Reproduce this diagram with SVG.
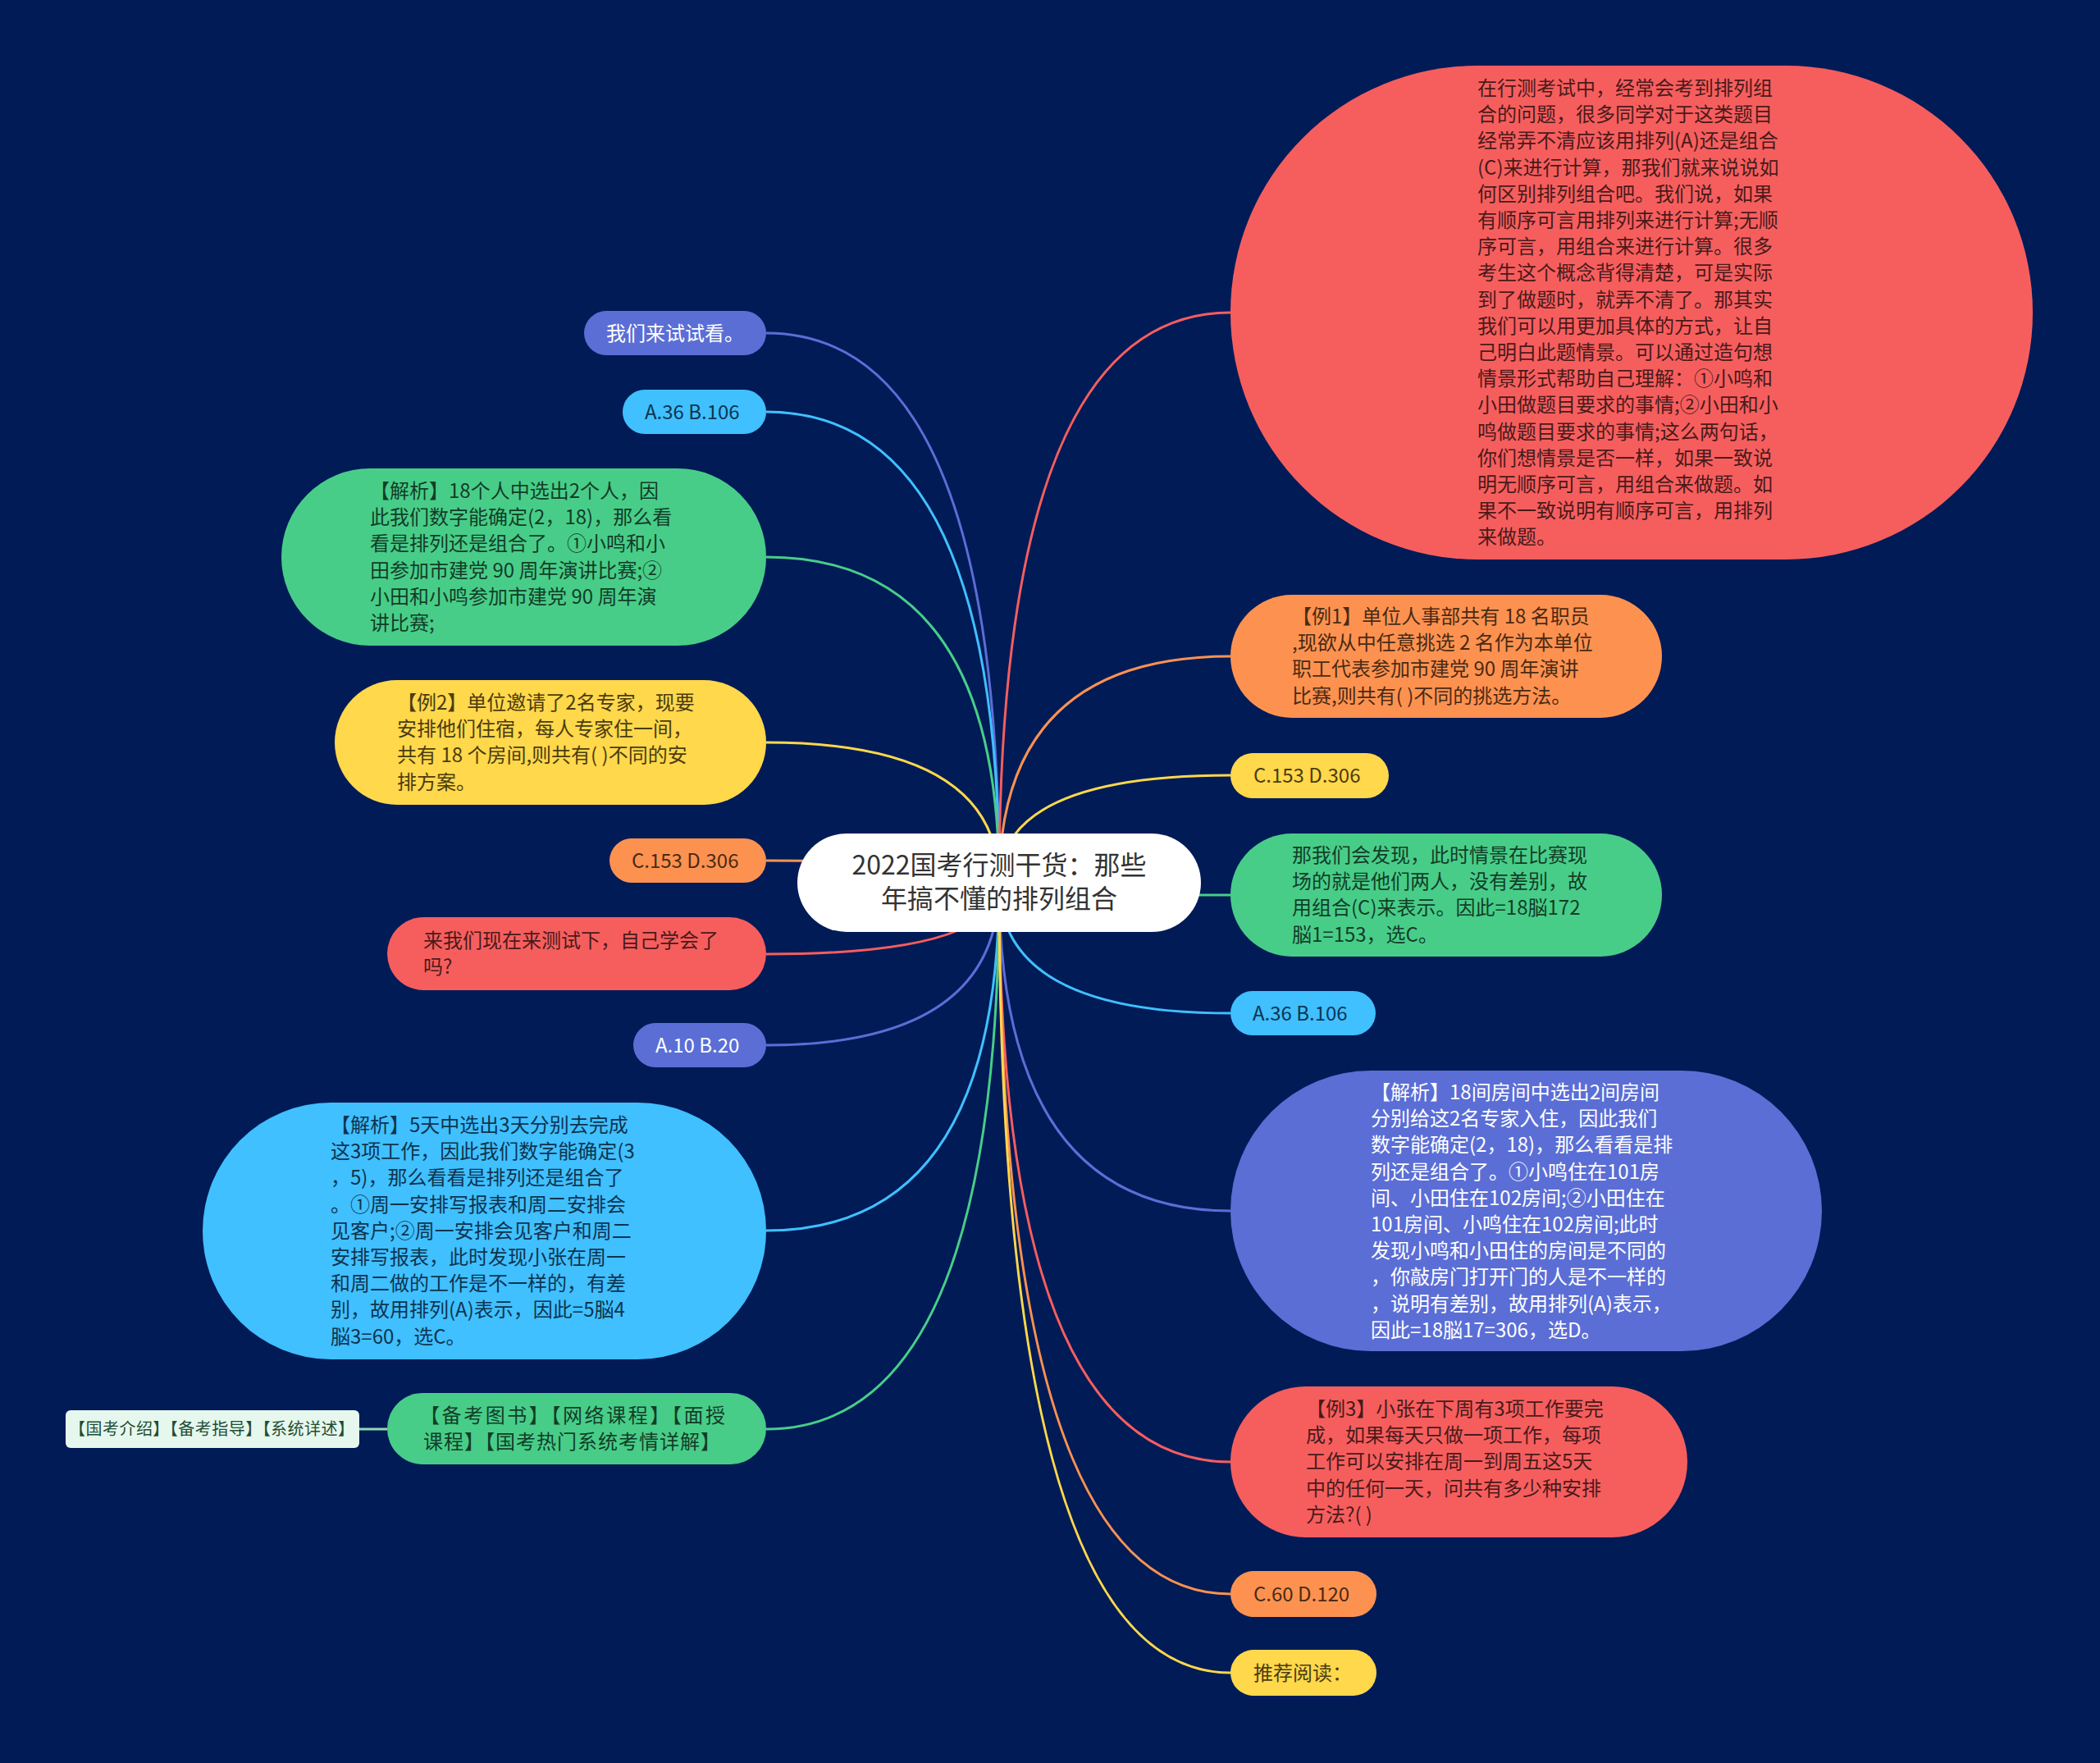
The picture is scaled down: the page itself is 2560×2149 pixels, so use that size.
<svg xmlns="http://www.w3.org/2000/svg" width="2560" height="2149" viewBox="0 0 2560 2149">
<style>
text{font-family:"Noto Sans CJK SC","Noto Sans",sans-serif;font-size:24px;}
.conn path{fill:none;stroke-width:3;}
.red{fill:#f65e5e}.orange{fill:#fd9250}.yellow{fill:#ffd84b}.green{fill:#48cd89}.lblue{fill:#40c0ff}.purple{fill:#5b6ed6}
.tred{fill:#4a1a1a}.torange{fill:#4a2a14}.tyellow{fill:#4a3c10}.tgreen{fill:#123d27}.tlblue{fill:#0e3450}.twhite{fill:#ffffff}
.root text{font-size:32px;fill:#333333;}
</style>
<rect x="0" y="0" width="2560" height="2149" fill="#011b57"/>
<g class="conn">
<path d="M1218,1077 Q1218,406 934,406" stroke="#5b6ed6"/>
<path d="M1218,1077 Q1218,502 934,502" stroke="#40c0ff"/>
<path d="M1218,1077 Q1218,679 934,679" stroke="#48cd89"/>
<path d="M1218,1077 Q1218,905 934,905" stroke="#ffd84b"/>
<path d="M1218,1077 Q1218,1049 934,1049" stroke="#fd9250"/>
<path d="M1218,1077 Q1218,1163 934,1163" stroke="#f65e5e"/>
<path d="M1218,1077 Q1218,1274 934,1274" stroke="#5b6ed6"/>
<path d="M1218,1077 Q1218,1500 934,1500" stroke="#40c0ff"/>
<path d="M1218,1077 Q1218,1742 934,1742" stroke="#48cd89"/>
<path d="M472,1742 L438,1742" stroke="#8fdcb6"/>
<path d="M1218,1077 Q1218,381 1500,381" stroke="#f65e5e"/>
<path d="M1218,1077 Q1218,800 1500,800" stroke="#fd9250"/>
<path d="M1218,1077 Q1218,945 1500,945" stroke="#ffd84b"/>
<path d="M1218,1077 Q1218,1091 1500,1091" stroke="#48cd89"/>
<path d="M1218,1077 Q1218,1235 1500,1235" stroke="#40c0ff"/>
<path d="M1218,1077 Q1218,1476 1500,1476" stroke="#5b6ed6"/>
<path d="M1218,1077 Q1218,1782 1500,1782" stroke="#f65e5e"/>
<path d="M1218,1077 Q1218,1943 1500,1943" stroke="#fd9250"/>
<path d="M1218,1077 Q1218,2039 1500,2039" stroke="#ffd84b"/>
</g>
<g id="root" class="root">
<rect x="972" y="1016" width="492" height="120" rx="60" fill="#ffffff"/>
<text x="1218" y="1066" text-anchor="middle">2022国考行测干货：那些</text>
<text x="1218" y="1107" text-anchor="middle">年搞不懂的排列组合</text>
</g>
<g id="r1">
<rect x="1500" y="80" width="978" height="602" rx="301" class="red"/>
<text x="1801" y="116" class="tred"><tspan x="1801">在行测考试中，经常会考到排列组</tspan><tspan x="1801" dy="32.2">合的问题，很多同学对于这类题目</tspan><tspan x="1801" dy="32.2">经常弄不清应该用排列(A)还是组合</tspan><tspan x="1801" dy="32.2">(C)来进行计算，那我们就来说说如</tspan><tspan x="1801" dy="32.2">何区别排列组合吧。我们说，如果</tspan><tspan x="1801" dy="32.2">有顺序可言用排列来进行计算;无顺</tspan><tspan x="1801" dy="32.2">序可言，用组合来进行计算。很多</tspan><tspan x="1801" dy="32.2">考生这个概念背得清楚，可是实际</tspan><tspan x="1801" dy="32.2">到了做题时，就弄不清了。那其实</tspan><tspan x="1801" dy="32.2">我们可以用更加具体的方式，让自</tspan><tspan x="1801" dy="32.2">己明白此题情景。可以通过造句想</tspan><tspan x="1801" dy="32.2">情景形式帮助自己理解：①小鸣和</tspan><tspan x="1801" dy="32.2">小田做题目要求的事情;②小田和小</tspan><tspan x="1801" dy="32.2">鸣做题目要求的事情;这么两句话，</tspan><tspan x="1801" dy="32.2">你们想情景是否一样，如果一致说</tspan><tspan x="1801" dy="32.2">明无顺序可言，用组合来做题。如</tspan><tspan x="1801" dy="32.2">果不一致说明有顺序可言，用排列</tspan><tspan x="1801" dy="32.2">来做题。</tspan></text>
</g>
<g id="r2">
<rect x="1500" y="725" width="526" height="150" rx="75" class="orange"/>
<text x="1575" y="760" class="torange"><tspan x="1575">【例1】单位人事部共有 18 名职员</tspan><tspan x="1575" dy="32.2">,现欲从中任意挑选 2 名作为本单位</tspan><tspan x="1575" dy="32.2">职工代表参加市建党 90 周年演讲</tspan><tspan x="1575" dy="32.2">比赛,则共有( )不同的挑选方法。</tspan></text>
</g>
<g id="r3">
<rect x="1500" y="918" width="193" height="55" rx="27.5" class="yellow"/>
<text x="1528" y="954" class="tyellow">C.153 D.306</text>
</g>
<g id="r4">
<rect x="1500" y="1016" width="526" height="150" rx="75" class="green"/>
<text x="1575" y="1051" class="tgreen"><tspan x="1575">那我们会发现，此时情景在比赛现</tspan><tspan x="1575" dy="32.2">场的就是他们两人，没有差别，故</tspan><tspan x="1575" dy="32.2">用组合(C)来表示。因此=18脳172</tspan><tspan x="1575" dy="32.2">脳1=153，选C。</tspan></text>
</g>
<g id="r5">
<rect x="1500" y="1208" width="177" height="54" rx="27" class="lblue"/>
<text x="1527" y="1243.5" class="tlblue">A.36 B.106</text>
</g>
<g id="r6">
<rect x="1500" y="1305" width="721" height="342" rx="171" class="purple"/>
<text x="1671" y="1340" class="twhite"><tspan x="1671">【解析】18间房间中选出2间房间</tspan><tspan x="1671" dy="32.2">分别给这2名专家入住，因此我们</tspan><tspan x="1671" dy="32.2">数字能确定(2，18)，那么看看是排</tspan><tspan x="1671" dy="32.2">列还是组合了。①小鸣住在101房</tspan><tspan x="1671" dy="32.2">间、小田住在102房间;②小田住在</tspan><tspan x="1671" dy="32.2">101房间、小鸣住在102房间;此时</tspan><tspan x="1671" dy="32.2">发现小鸣和小田住的房间是不同的</tspan><tspan x="1671" dy="32.2">，你敲房门打开门的人是不一样的</tspan><tspan x="1671" dy="32.2">，说明有差别，故用排列(A)表示，</tspan><tspan x="1671" dy="32.2">因此=18脳17=306，选D。</tspan></text>
</g>
<g id="r7">
<rect x="1500" y="1690" width="557" height="184" rx="92" class="red"/>
<text x="1592" y="1726" class="tred"><tspan x="1592">【例3】小张在下周有3项工作要完</tspan><tspan x="1592" dy="32.2">成，如果每天只做一项工作，每项</tspan><tspan x="1592" dy="32.2">工作可以安排在周一到周五这5天</tspan><tspan x="1592" dy="32.2">中的任何一天，问共有多少种安排</tspan><tspan x="1592" dy="32.2">方法?( )</tspan></text>
</g>
<g id="r8">
<rect x="1500" y="1915" width="178" height="56" rx="28" class="orange"/>
<text x="1528" y="1951.5" class="torange">C.60 D.120</text>
</g>
<g id="r9">
<rect x="1500" y="2011" width="178" height="56" rx="28" class="yellow"/>
<text x="1528" y="2047.5" class="tyellow">推荐阅读：</text>
</g>
<g id="l1">
<rect x="712" y="379" width="222" height="54" rx="27" class="purple"/>
<text x="739" y="414.5" class="twhite">我们来试试看。</text>
</g>
<g id="l2">
<rect x="759" y="475" width="175" height="54" rx="27" class="lblue"/>
<text x="786" y="510.5" class="tlblue">A.36 B.106</text>
</g>
<g id="l3">
<rect x="343" y="571" width="591" height="216" rx="108" class="green"/>
<text x="451" y="607" class="tgreen"><tspan x="451">【解析】18个人中选出2个人，因</tspan><tspan x="451" dy="32.2">此我们数字能确定(2，18)，那么看</tspan><tspan x="451" dy="32.2">看是排列还是组合了。①小鸣和小</tspan><tspan x="451" dy="32.2">田参加市建党 90 周年演讲比赛;②</tspan><tspan x="451" dy="32.2">小田和小鸣参加市建党 90 周年演</tspan><tspan x="451" dy="32.2">讲比赛;</tspan></text>
</g>
<g id="l4">
<rect x="408" y="829" width="526" height="152" rx="76" class="yellow"/>
<text x="484" y="865" class="tyellow"><tspan x="484">【例2】单位邀请了2名专家，现要</tspan><tspan x="484" dy="32.2">安排他们住宿，每人专家住一间，</tspan><tspan x="484" dy="32.2">共有 18 个房间,则共有( )不同的安</tspan><tspan x="484" dy="32.2">排方案。</tspan></text>
</g>
<g id="l5">
<rect x="743" y="1022" width="191" height="54" rx="27" class="orange"/>
<text x="770" y="1057.5" class="torange">C.153 D.306</text>
</g>
<g id="l6">
<rect x="472" y="1118" width="462" height="89" rx="44.5" class="red"/>
<text x="516" y="1155" class="tred"><tspan x="516">来我们现在来测试下，自己学会了</tspan><tspan x="516" dy="32.2">吗?</tspan></text>
</g>
<g id="l7">
<rect x="772" y="1247" width="162" height="54" rx="27" class="purple"/>
<text x="799" y="1282.5" class="twhite">A.10 B.20</text>
</g>
<g id="l8">
<rect x="247" y="1344" width="687" height="313" rx="156.5" class="lblue"/>
<text x="403" y="1380" class="tlblue"><tspan x="403">【解析】5天中选出3天分别去完成</tspan><tspan x="403" dy="32.2">这3项工作，因此我们数字能确定(3</tspan><tspan x="403" dy="32.2">，5)，那么看看是排列还是组合了</tspan><tspan x="403" dy="32.2">。①周一安排写报表和周二安排会</tspan><tspan x="403" dy="32.2">见客户;②周一安排会见客户和周二</tspan><tspan x="403" dy="32.2">安排写报表，此时发现小张在周一</tspan><tspan x="403" dy="32.2">和周二做的工作是不一样的，有差</tspan><tspan x="403" dy="32.2">别，故用排列(A)表示，因此=5脳4</tspan><tspan x="403" dy="32.2">脳3=60，选C。</tspan></text>
</g>
<g id="l9">
<rect x="472" y="1698" width="462" height="87" rx="43.5" class="green"/>
<text x="512" y="1734" class="tgreen" textLength="372" lengthAdjust="spacing">【备考图书】【网络课程】【面授</text>
<text x="516" y="1766.2" class="tgreen" textLength="362" lengthAdjust="spacing">课程】【国考热门系统考情详解】</text>
</g>
<g id="l10">
<rect x="80" y="1719" width="358" height="46" rx="6" fill="#e6f7ee"/>
<text x="84" y="1749" style="font-size:20px" fill="#1f4d33" textLength="348" lengthAdjust="spacing">【国考介绍】【备考指导】【系统详述】</text>
</g>
</svg>
